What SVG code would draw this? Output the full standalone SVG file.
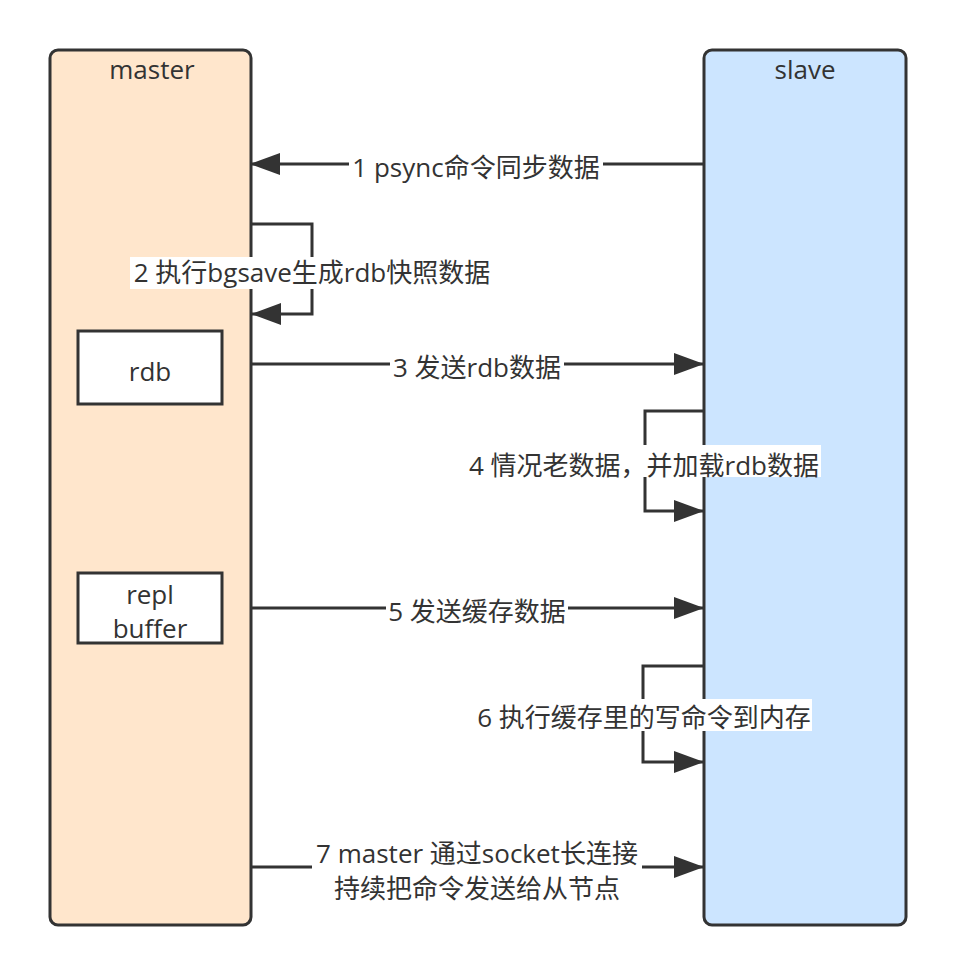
<svg xmlns="http://www.w3.org/2000/svg" width="955" height="976" viewBox="0 0 955 976">
<style>
.t{font-family:"Open Sans","Noto Sans CJK SC",sans-serif;font-size:26px;fill:#333;text-anchor:middle}
.ln{fill:none;stroke:#333;stroke-width:3}
.bg{fill:#fff}
</style>
<defs>
<marker id="ah" markerUnits="userSpaceOnUse" markerWidth="32" markerHeight="24" refX="30" refY="11" orient="auto">
<path d="M0,0 L30,11 L0,22 Z" fill="#333"/>
</marker>
</defs>
<rect width="955" height="976" fill="#fff"/>
<g id="master">
<rect x="50" y="50" width="201" height="875" rx="8" fill="#FFE6CC" stroke="#333" stroke-width="3"/>
<text class="t" x="152" y="79">master</text>
</g>
<g id="slave">
<rect x="704" y="50" width="202" height="875" rx="8" fill="#CCE5FF" stroke="#333" stroke-width="3"/>
<text class="t" x="805" y="79">slave</text>
</g>
<g id="rdb">
<rect x="78" y="331" width="144" height="73" fill="#fff" stroke="#333" stroke-width="3"/>
<text class="t" x="150" y="381">rdb</text>
</g>
<g id="replbuffer">
<rect x="78" y="573" width="144" height="70" fill="#fff" stroke="#333" stroke-width="3"/>
<text class="t" x="150" y="604">repl</text>
<text class="t" x="150" y="638">buffer</text>
</g>
<g id="connectors">
<path class="ln" d="M704,164 L250,164" marker-end="url(#ah)"/>
<path class="ln" d="M251,224 L312,224 L312,314 L251,314" marker-end="url(#ah)"/>
<path class="ln" d="M251,364 L704,364" marker-end="url(#ah)"/>
<path class="ln" d="M704,411 L645,411 L645,511 L704,511" marker-end="url(#ah)"/>
<path class="ln" d="M251,608 L704,608" marker-end="url(#ah)"/>
<path class="ln" d="M704,666 L643,666 L643,762 L704,762" marker-end="url(#ah)"/>
<path class="ln" d="M251,867 L704,867" marker-end="url(#ah)"/>
</g>
<g id="labels">
<rect class="bg" x="349" y="150" width="254" height="32"/>
<text class="t" x="476" y="177">1 psync命令同步数据</text>
<rect class="bg" x="130" y="257" width="364" height="32"/>
<text class="t" x="312" y="282">2 执行bgsave生成rdb快照数据</text>
<rect class="bg" x="390" y="350" width="174" height="30"/>
<text class="t" x="477" y="377">3 发送rdb数据</text>
<rect class="bg" x="467" y="445" width="354" height="32"/>
<text class="t" x="644" y="475">4 情况老数据，并加载rdb数据</text>
<rect class="bg" x="386" y="594" width="182" height="30"/>
<text class="t" x="477" y="621">5 发送缓存数据</text>
<rect class="bg" x="476" y="699" width="336" height="32"/>
<text class="t" x="644" y="727">6 执行缓存里的写命令到内存</text>
<rect class="bg" x="312" y="840" width="330" height="64"/>
<text class="t" x="477" y="863">7 master 通过socket长连接</text>
<text class="t" x="477" y="898">持续把命令发送给从节点</text>
</g>
</svg>
